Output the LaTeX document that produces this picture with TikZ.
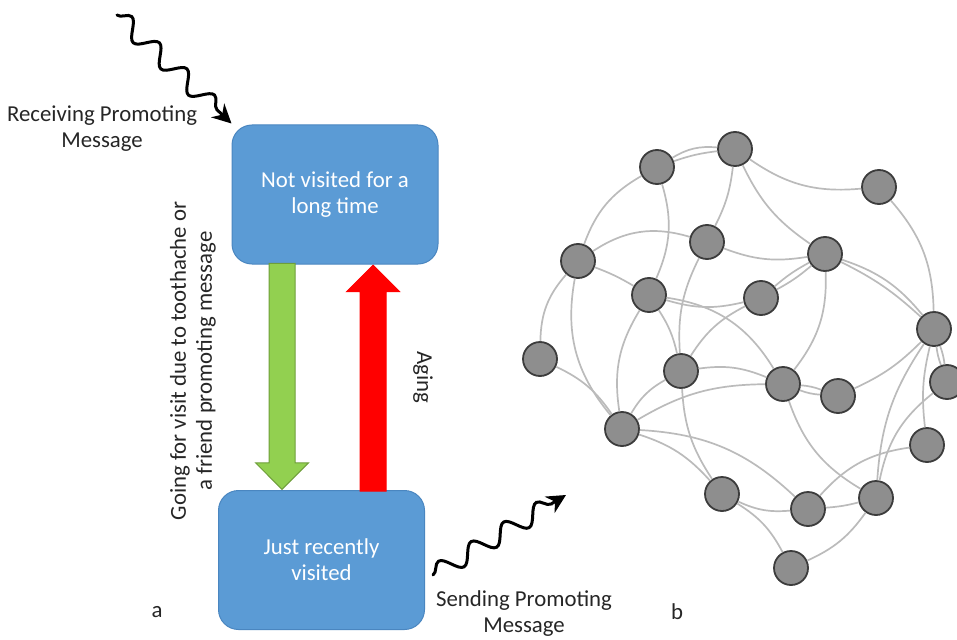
\documentclass[tikz,border=0pt]{standalone}
\usepackage{fontspec}
\setmainfont{Carlito}
\usetikzlibrary{arrows.meta,shapes.arrows,decorations.pathmorphing,calc}
\definecolor{boxblue}{HTML}{5B9BD5}
\definecolor{boxedge}{HTML}{4A86C0}
\definecolor{visitgreen}{HTML}{92D050}
\definecolor{visitedge}{HTML}{6E9E3A}
\definecolor{agered}{HTML}{FF0000}
\definecolor{peergray}{HTML}{8E8E8E}
\definecolor{peerline}{HTML}{3C3C3C}
\definecolor{linkgray}{HTML}{BBBBBB}
\definecolor{inktext}{HTML}{262626}

\begin{document}
\begin{tikzpicture}[x=1pt, y=-1pt, font=\fontsize{22.8}{26}\selectfont, text=inktext,
  state/.style={draw=boxedge, fill=boxblue, line width=1pt, rounded corners=20pt,
    text=white, align=center, minimum width=206pt, minimum height=139pt},
  blockarrow/.style={single arrow, inner xsep=0pt, inner ysep=12.5pt,
    minimum height=226pt, minimum width=52pt, single arrow head extend=13.5pt,
    line width=1pt, anchor=tip},
  peer/.style={circle, draw=peerline, fill=peergray, line width=1.8pt,
    minimum size=34pt, inner sep=0pt},
  link/.style={draw=linkgray, line width=1.7pt},
  wave/.style={decorate, decoration={snake, amplitude=9pt, segment length=38pt,
    post length=12pt}, line width=3pt, line cap=round,
    -{Stealth[length=19pt,width=19pt]}}]
\useasboundingbox (0,0) rectangle (957,639);

\node [state] (notvisited) at (335,194.5) {Not visited for a\\long time};
\node [state] (justvisited) at (321.5,560) {Just recently\\visited};

\node [blockarrow, draw=visitedge, fill=visitgreen, rotate=-90] (visitarrow)
  at ($(justvisited.north)+(-39.5,0)$) {};
\node [blockarrow, draw=agered, fill=agered, rotate=90] (agearrow)
  at ($(notvisited.south)+(38,0)$) {};

\node [rotate=90, align=center] (visitlabel) at (193,361)
  {Going for visit due to toothache or\\a friend promoting message};
\node [rotate=-90] (agelabel) at (423,377) {Aging};

\coordinate (recvstart) at (117,15);
\coordinate (sendend) at (566,495);
\draw [wave] (recvstart) -- ($(notvisited.north west)+(0,-1)$);
\draw [wave] ($(justvisited.east)+(8,15)$) -- (sendend);
\node [align=center] (recvlabel) at (102,129) {Receiving Promoting\\Message};
\node [align=center] (sendlabel) at (524,614) {Sending Promoting\\Message};

\node (panela) at (157,612) {a};
\node (panelb) at (677,612) {b};

\foreach \n/\x/\y in {1/657/167, 2/735/149, 3/879/187, 4/578/261, 5/707/242,
  6/825/254, 7/649/295, 8/761/298, 9/934/329, 10/540/359, 11/681/371,
  12/783/384, 13/838/396, 14/947/382, 15/622/429, 16/927/445, 17/722/494,
  18/808/509, 19/876/498, 20/791/568}
  \node [peer] (p\n) at (\x,\y) {};

\draw [link] (p1) to [bend left=18] (p2);
\draw [link] (p1) to [bend left=6] (p2);
\draw [link] (p1) to [bend right=20] (p4);
\draw [link] (p1) to [bend left=20] (p7);
\draw [link] (p2) to [bend left=10] (p5);
\draw [link] (p2) to [bend right=20] (p3);
\draw [link] (p2) to [bend right=15] (p6);
\draw [link] (p4) to [bend left=25] (p5);
\draw [link] (p4) to [bend left=5] (p7);
\draw [link] (p4) to [bend right=20] (p10);
\draw [link] (p4) to [bend right=25] (p15);
\draw [link] (p5) to [bend right=15] (p6);
\draw [link] (p5) to [bend right=15] (p11);
\draw [link] (p6) to [bend left=6] (p8);
\draw [link] (p6) to [bend right=6] (p8);
\draw [link] (p6) to [bend left=16] (p9);
\draw [link] (p6) to [bend left=8] (p9);
\draw [link] (p6) to [bend left=20] (p12);
\draw [link] (p3) to [bend left=20] (p9);
\draw [link] (p7) to [bend right=15] (p8);
\draw [link] (p7) to [bend left=25] (p12);
\draw [link] (p7) to [bend left=10] (p11);
\draw [link] (p7) to [bend right=20] (p15);
\draw [link] (p8) to [bend right=15] (p11);
\draw [link] (p10) to [bend left=15] (p15);
\draw [link] (p11) to [bend right=15] (p15);
\draw [link] (p15) to [bend left=15] (p12);
\draw [link] (p11) to [bend left=15] (p12);
\draw [link] (p11) to [bend right=15] (p17);
\draw [link] (p15) to [bend left=15] (p17);
\draw [link] (p15) to [bend left=20] (p18);
\draw [link] (p17) to [bend right=15] (p18);
\draw [link] (p17) to [bend left=15] (p20);
\draw [link] (p18) to [bend right=5] (p19);
\draw [link] (p19) to [bend left=15] (p20);
\draw [link] (p12) to [bend right=20] (p19);
\draw [link] (p12) to [bend left=8] (p13);
\draw [link] (p12) to [bend right=8] (p13);
\draw [link] (p13) to [bend right=10] (p9);
\draw [link] (p9) to [bend left=6] (p14);
\draw [link] (p9) to [bend right=6] (p14);
\draw [link] (p9) to [bend right=10] (p16);
\draw [link] (p9) to [bend right=15] (p19);
\draw [link] (p14) to [bend right=20] (p19);
\draw [link] (p16) to [bend right=20] (p18);
\end{tikzpicture}
\end{document}
